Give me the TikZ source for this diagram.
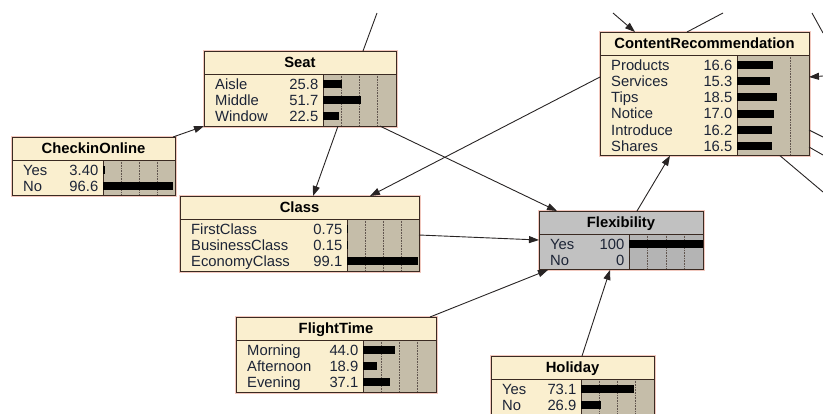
\documentclass[tikz,border=0pt]{standalone}
\usepackage{fontspec}
\setmainfont{Liberation Sans}
\usepackage{tikz}
\usetikzlibrary{calc}
\usetikzlibrary{arrows.meta}

\definecolor{cream}{RGB}{250,239,207}
\definecolor{taupe}{RGB}{197,189,169}
\definecolor{flexgray}{RGB}{193,193,193}
\definecolor{flexbar}{RGB}{180,180,180}
\definecolor{boxedge}{RGB}{58,42,34}
\definecolor{halo}{RGB}{242,200,190}
\definecolor{rowink}{RGB}{28,36,54}
\definecolor{linkcol}{RGB}{40,36,36}

\tikzset{
  netbox/.style={fill=cream, inner sep=0pt, outer sep=0pt, preaction={draw=halo, line width=3bp}},
  boxline/.style={draw=boxedge, line width=1bp},
  boxhead/.style={boxline, fill=cream, inner sep=0pt, outer sep=0pt, text=black,
    font=\fontsize{14.8bp}{17bp}\selectfont\bfseries, text height=10.6bp, text depth=0pt},
  barbg/.style={fill=taupe},
  gridline/.style={densely dotted, line width=0.6bp, draw=boxedge!80},
  rowtext/.style={inner sep=0pt, text=rowink, font=\fontsize{14.8bp}{17bp}\selectfont},
  bar/.style={fill=black},
  link/.style={draw=linkcol, line width=0.9bp},
  arr/.style={link, -{Triangle[length=10bp,width=7bp]}}
}

\begin{document}
\begin{tikzpicture}[x=1bp, y=-1bp]
\useasboundingbox (0,0) rectangle (823,413);
\clip (0,0) rectangle (823,413);

\def\rowh{16.2}
% name, left, top, width, bar start, rows, bar scale, title, state/value list
\def\netnode#1#2#3#4#5#6#7#8#9{%
  \pgfmathsetmacro\bh{23+#6*\rowh+3.5}
  \node[netbox, minimum width=#4bp, minimum height=\bh bp, anchor=north west] (#1) at (#2,#3) {};
  \fill[barbg] (#5,#3+23) rectangle (#2+#4,#3+\bh);
  \begin{scope}
    \clip (#5,#3+23) rectangle (#2+#4,#3+\bh);
    \foreach \k in {1,2,3}
      \draw[gridline] (#5+\k*25*#7,#3+23) -- ++(0,\bh-23);
  \end{scope}
  \draw[boxline] (#5,#3+23) -- (#5,#3+\bh);
  \node[boxhead, minimum width=#4bp, minimum height=23bp, anchor=north west] (#1-head) at (#2,#3) {#8};
  \foreach \lab/\val [count=\i] in {#9} {
    \pgfmathsetmacro\ry{#3+23+10+(\i-1)*\rowh}
    \node[rowtext, anchor=base west] (#1-lab\i) at (#2+11,\ry+5.3) {\lab};
    \node[rowtext, anchor=base east] (#1-val\i) at (#5-4.5,\ry+5.3) {\val};
    \fill[bar] (#5,\ry-4) rectangle ++(\val*#7,8);
  }
  \draw[boxline] (#2,#3) rectangle (#2+#4,#3+\bh);
}

\netnode{seat}{204}{51}{192}{323}{3}{0.73}{Seat}{Aisle/25.8, Middle/51.7, Window/22.5}
\netnode{checkin}{12}{137}{163}{103}{2}{0.72}{CheckinOnline}{Yes/3.40, No/96.6}
\netnode{class}{180}{196}{239}{347}{3}{0.72}{Class}{FirstClass/0.75, BusinessClass/0.15, EconomyClass/99.1}
\netnode{flight}{236}{317}{200}{363}{3}{0.73}{FlightTime}{Morning/44.0, Afternoon/18.9, Evening/37.1}
\netnode{holiday}{491}{356}{163}{581}{2}{0.73}{Holiday}{Yes/73.1, No/26.9}
\netnode{content}{600}{32}{209}{737}{6}{2.15}{ContentRecommendation}{Products/16.6, Services/15.3, Tips/18.5, Notice/17.0, Introduce/16.2, Shares/16.5}
% the observed node is greyed out
\begin{scope}[netbox/.append style={fill=flexgray}, boxhead/.append style={fill=flexgray}, barbg/.style={fill=flexbar}]
\netnode{flex}{539}{211}{164}{629}{2}{0.74}{Flexibility}{Yes/100, No/0}
\end{scope}

% loose ends running off the page
\coordinate (seat-up) at (377,13);
\coordinate (cr-in-top) at (613,13);
\coordinate (cr-out-top) at (723,13);
\coordinate (cr-in-right) at (823,76);
\coordinate (cr-out1) at (823,137);
\coordinate (cr-out2) at (823,155);
\coordinate (cr-out3) at (823,192);
\coordinate (tr-a) at (812,13);
\coordinate (tr-b) at (823,33);

\draw[arr] ($(checkin.north east)+(-2,0)$) -- (seat.south west);
\draw[arr] ($(seat.south west)+(134,0)$) -- ($(class.north west)+(133,0)$);
\draw[arr] ($(seat.south west)+(176,0)$) -- ($(flex.north west)+(18,0)$);
\draw[arr] ($(content.north west)+(0,45)$) -- ($(class.north west)+(190,0)$);
\draw[arr] ($(class.north east)+(0,39)$) -- ($(flex.north west)+(0,29)$);
\draw[arr] ($(flight.north east)+(-6,0)$) -- ($(flex.south west)+(9,0)$);
\draw[arr] ($(holiday.north west)+(91,0)$) -- ($(flex.south west)+(71,0)$);
\draw[arr] ($(flex.north west)+(98,0)$) -- ($(content.south west)+(70,0)$);

\draw[link] ($(seat.north west)+(159,0)$) -- (seat-up);
\draw[arr] (cr-in-top) -- ($(content.north west)+(35,0)$);
\draw[link] ($(content.north west)+(87,0)$) -- (cr-out-top);
\draw[arr] (cr-in-right) -- ($(content.north east)+(0,45)$);
\draw[link] ($(content.north east)+(0,98)$) -- (cr-out1);
\draw[link] ($(content.north east)+(0,115)$) -- (cr-out2);
\draw[link] ($(content.south east)+(-29,0)$) -- (cr-out3);
\draw[link] (tr-a) -- (tr-b);
\end{tikzpicture}
\end{document}
